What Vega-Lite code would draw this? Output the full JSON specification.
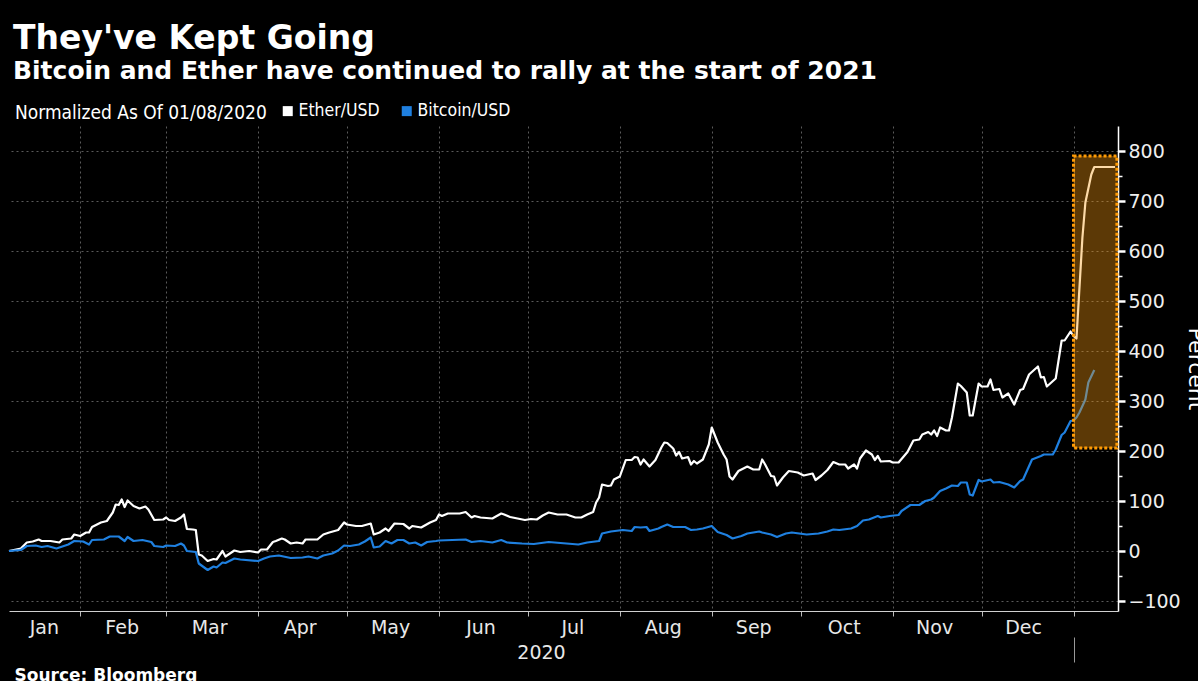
{
  "$schema": "https://vega.github.io/schema/vega-lite/v6.json",
  "width": 1109,
  "height": 485,
  "autosize": {"type": "none"},
  "padding": {"left": 9, "top": 126, "right": 80, "bottom": 70},
  "background": "#000000",
  "title": {
    "text": "They've Kept Going",
    "subtitle": "Bitcoin and Ether have continued to rally at the start of 2021",
    "anchor": "start",
    "frame": "group",
    "orient": "top",
    "dx": 4,
    "offset": 18,
    "font": "DejaVu Sans",
    "fontSize": 33,
    "fontWeight": "bold",
    "color": "#ffffff",
    "subtitleFont": "DejaVu Sans",
    "subtitleFontSize": 25,
    "subtitleFontWeight": "bold",
    "subtitleColor": "#ffffff",
    "subtitlePadding": 3
  },
  "config": {
    "view": {"stroke": null},
    "axis": {"labelFont": "DejaVu Sans", "titleFont": "DejaVu Sans", "labelColor": "#e8e8e8", "titleColor": "#ffffff"}
  },
  "datasets": {
    "box": [{"x1": "2021-01-01", "x2": "2021-01-15T15:00:00Z", "y1": 206, "y2": 790}],
    "lines": [
      {"d": "2020-01-08", "s": "Ether/USD", "v": 0},
      {"d": "2020-01-12", "s": "Ether/USD", "v": 5},
      {"d": "2020-01-14", "s": "Ether/USD", "v": 17},
      {"d": "2020-01-16", "s": "Ether/USD", "v": 19},
      {"d": "2020-01-18", "s": "Ether/USD", "v": 23},
      {"d": "2020-01-19", "s": "Ether/USD", "v": 20},
      {"d": "2020-01-22", "s": "Ether/USD", "v": 20},
      {"d": "2020-01-25", "s": "Ether/USD", "v": 17},
      {"d": "2020-01-26", "s": "Ether/USD", "v": 23},
      {"d": "2020-01-29", "s": "Ether/USD", "v": 25},
      {"d": "2020-01-30", "s": "Ether/USD", "v": 33},
      {"d": "2020-02-01", "s": "Ether/USD", "v": 30},
      {"d": "2020-02-03", "s": "Ether/USD", "v": 37},
      {"d": "2020-02-04", "s": "Ether/USD", "v": 37},
      {"d": "2020-02-05", "s": "Ether/USD", "v": 48},
      {"d": "2020-02-08", "s": "Ether/USD", "v": 57},
      {"d": "2020-02-10", "s": "Ether/USD", "v": 60},
      {"d": "2020-02-12", "s": "Ether/USD", "v": 77},
      {"d": "2020-02-13", "s": "Ether/USD", "v": 93},
      {"d": "2020-02-14", "s": "Ether/USD", "v": 92},
      {"d": "2020-02-15", "s": "Ether/USD", "v": 103},
      {"d": "2020-02-16", "s": "Ether/USD", "v": 88},
      {"d": "2020-02-17", "s": "Ether/USD", "v": 101},
      {"d": "2020-02-19", "s": "Ether/USD", "v": 90},
      {"d": "2020-02-21", "s": "Ether/USD", "v": 85},
      {"d": "2020-02-23", "s": "Ether/USD", "v": 89},
      {"d": "2020-02-24", "s": "Ether/USD", "v": 83},
      {"d": "2020-02-26", "s": "Ether/USD", "v": 62},
      {"d": "2020-02-29", "s": "Ether/USD", "v": 63},
      {"d": "2020-03-01", "s": "Ether/USD", "v": 67},
      {"d": "2020-03-02", "s": "Ether/USD", "v": 62},
      {"d": "2020-03-04", "s": "Ether/USD", "v": 60},
      {"d": "2020-03-06", "s": "Ether/USD", "v": 67},
      {"d": "2020-03-07", "s": "Ether/USD", "v": 73},
      {"d": "2020-03-08", "s": "Ether/USD", "v": 44},
      {"d": "2020-03-10", "s": "Ether/USD", "v": 43},
      {"d": "2020-03-11", "s": "Ether/USD", "v": 42},
      {"d": "2020-03-12", "s": "Ether/USD", "v": -7},
      {"d": "2020-03-13", "s": "Ether/USD", "v": -9},
      {"d": "2020-03-15", "s": "Ether/USD", "v": -20},
      {"d": "2020-03-17", "s": "Ether/USD", "v": -16},
      {"d": "2020-03-18", "s": "Ether/USD", "v": -17},
      {"d": "2020-03-20", "s": "Ether/USD", "v": 0},
      {"d": "2020-03-21", "s": "Ether/USD", "v": -11},
      {"d": "2020-03-24", "s": "Ether/USD", "v": 1},
      {"d": "2020-03-26", "s": "Ether/USD", "v": -2},
      {"d": "2020-03-29", "s": "Ether/USD", "v": 0},
      {"d": "2020-04-01", "s": "Ether/USD", "v": -3},
      {"d": "2020-04-02", "s": "Ether/USD", "v": 3},
      {"d": "2020-04-04", "s": "Ether/USD", "v": 3},
      {"d": "2020-04-06", "s": "Ether/USD", "v": 18},
      {"d": "2020-04-07", "s": "Ether/USD", "v": 20},
      {"d": "2020-04-09", "s": "Ether/USD", "v": 25},
      {"d": "2020-04-10", "s": "Ether/USD", "v": 23},
      {"d": "2020-04-12", "s": "Ether/USD", "v": 15},
      {"d": "2020-04-14", "s": "Ether/USD", "v": 17},
      {"d": "2020-04-16", "s": "Ether/USD", "v": 15},
      {"d": "2020-04-17", "s": "Ether/USD", "v": 23},
      {"d": "2020-04-21", "s": "Ether/USD", "v": 23},
      {"d": "2020-04-23", "s": "Ether/USD", "v": 33},
      {"d": "2020-04-25", "s": "Ether/USD", "v": 37},
      {"d": "2020-04-28", "s": "Ether/USD", "v": 42},
      {"d": "2020-04-30", "s": "Ether/USD", "v": 57},
      {"d": "2020-05-01", "s": "Ether/USD", "v": 53},
      {"d": "2020-05-04", "s": "Ether/USD", "v": 50},
      {"d": "2020-05-06", "s": "Ether/USD", "v": 50},
      {"d": "2020-05-09", "s": "Ether/USD", "v": 55},
      {"d": "2020-05-10", "s": "Ether/USD", "v": 33},
      {"d": "2020-05-12", "s": "Ether/USD", "v": 37},
      {"d": "2020-05-14", "s": "Ether/USD", "v": 45},
      {"d": "2020-05-15", "s": "Ether/USD", "v": 40},
      {"d": "2020-05-17", "s": "Ether/USD", "v": 55},
      {"d": "2020-05-20", "s": "Ether/USD", "v": 54},
      {"d": "2020-05-22", "s": "Ether/USD", "v": 45},
      {"d": "2020-05-23", "s": "Ether/USD", "v": 50},
      {"d": "2020-05-26", "s": "Ether/USD", "v": 47},
      {"d": "2020-05-29", "s": "Ether/USD", "v": 57},
      {"d": "2020-05-31", "s": "Ether/USD", "v": 62},
      {"d": "2020-06-01", "s": "Ether/USD", "v": 73},
      {"d": "2020-06-02", "s": "Ether/USD", "v": 70},
      {"d": "2020-06-04", "s": "Ether/USD", "v": 75},
      {"d": "2020-06-08", "s": "Ether/USD", "v": 75},
      {"d": "2020-06-10", "s": "Ether/USD", "v": 78},
      {"d": "2020-06-12", "s": "Ether/USD", "v": 67},
      {"d": "2020-06-13", "s": "Ether/USD", "v": 70},
      {"d": "2020-06-15", "s": "Ether/USD", "v": 67},
      {"d": "2020-06-19", "s": "Ether/USD", "v": 65},
      {"d": "2020-06-22", "s": "Ether/USD", "v": 75},
      {"d": "2020-06-23", "s": "Ether/USD", "v": 73},
      {"d": "2020-06-25", "s": "Ether/USD", "v": 68},
      {"d": "2020-06-30", "s": "Ether/USD", "v": 62},
      {"d": "2020-07-02", "s": "Ether/USD", "v": 64},
      {"d": "2020-07-04", "s": "Ether/USD", "v": 63},
      {"d": "2020-07-06", "s": "Ether/USD", "v": 71},
      {"d": "2020-07-08", "s": "Ether/USD", "v": 77},
      {"d": "2020-07-11", "s": "Ether/USD", "v": 73},
      {"d": "2020-07-14", "s": "Ether/USD", "v": 73},
      {"d": "2020-07-17", "s": "Ether/USD", "v": 67},
      {"d": "2020-07-19", "s": "Ether/USD", "v": 67},
      {"d": "2020-07-21", "s": "Ether/USD", "v": 73},
      {"d": "2020-07-23", "s": "Ether/USD", "v": 78},
      {"d": "2020-07-24", "s": "Ether/USD", "v": 97},
      {"d": "2020-07-25", "s": "Ether/USD", "v": 107},
      {"d": "2020-07-26", "s": "Ether/USD", "v": 133},
      {"d": "2020-07-28", "s": "Ether/USD", "v": 130},
      {"d": "2020-07-29", "s": "Ether/USD", "v": 131},
      {"d": "2020-07-30", "s": "Ether/USD", "v": 143},
      {"d": "2020-08-01", "s": "Ether/USD", "v": 149},
      {"d": "2020-08-03", "s": "Ether/USD", "v": 182},
      {"d": "2020-08-05", "s": "Ether/USD", "v": 182},
      {"d": "2020-08-06", "s": "Ether/USD", "v": 188},
      {"d": "2020-08-07", "s": "Ether/USD", "v": 187},
      {"d": "2020-08-08", "s": "Ether/USD", "v": 173},
      {"d": "2020-08-09", "s": "Ether/USD", "v": 183},
      {"d": "2020-08-11", "s": "Ether/USD", "v": 169},
      {"d": "2020-08-13", "s": "Ether/USD", "v": 182},
      {"d": "2020-08-15", "s": "Ether/USD", "v": 207},
      {"d": "2020-08-16", "s": "Ether/USD", "v": 217},
      {"d": "2020-08-17", "s": "Ether/USD", "v": 216},
      {"d": "2020-08-19", "s": "Ether/USD", "v": 205},
      {"d": "2020-08-20", "s": "Ether/USD", "v": 191},
      {"d": "2020-08-21", "s": "Ether/USD", "v": 198},
      {"d": "2020-08-22", "s": "Ether/USD", "v": 185},
      {"d": "2020-08-24", "s": "Ether/USD", "v": 188},
      {"d": "2020-08-25", "s": "Ether/USD", "v": 173},
      {"d": "2020-08-26", "s": "Ether/USD", "v": 180},
      {"d": "2020-08-27", "s": "Ether/USD", "v": 175},
      {"d": "2020-08-29", "s": "Ether/USD", "v": 183},
      {"d": "2020-08-31", "s": "Ether/USD", "v": 213},
      {"d": "2020-09-01", "s": "Ether/USD", "v": 247},
      {"d": "2020-09-03", "s": "Ether/USD", "v": 217},
      {"d": "2020-09-05", "s": "Ether/USD", "v": 193},
      {"d": "2020-09-06", "s": "Ether/USD", "v": 183},
      {"d": "2020-09-07", "s": "Ether/USD", "v": 149},
      {"d": "2020-09-08", "s": "Ether/USD", "v": 143},
      {"d": "2020-09-10", "s": "Ether/USD", "v": 160},
      {"d": "2020-09-13", "s": "Ether/USD", "v": 169},
      {"d": "2020-09-15", "s": "Ether/USD", "v": 163},
      {"d": "2020-09-17", "s": "Ether/USD", "v": 163},
      {"d": "2020-09-18", "s": "Ether/USD", "v": 183},
      {"d": "2020-09-19", "s": "Ether/USD", "v": 173},
      {"d": "2020-09-21", "s": "Ether/USD", "v": 150},
      {"d": "2020-09-22", "s": "Ether/USD", "v": 149},
      {"d": "2020-09-23", "s": "Ether/USD", "v": 131},
      {"d": "2020-09-25", "s": "Ether/USD", "v": 147},
      {"d": "2020-09-27", "s": "Ether/USD", "v": 160},
      {"d": "2020-09-30", "s": "Ether/USD", "v": 157},
      {"d": "2020-10-02", "s": "Ether/USD", "v": 151},
      {"d": "2020-10-05", "s": "Ether/USD", "v": 155},
      {"d": "2020-10-06", "s": "Ether/USD", "v": 142},
      {"d": "2020-10-08", "s": "Ether/USD", "v": 151},
      {"d": "2020-10-10", "s": "Ether/USD", "v": 162},
      {"d": "2020-10-12", "s": "Ether/USD", "v": 178},
      {"d": "2020-10-14", "s": "Ether/USD", "v": 173},
      {"d": "2020-10-16", "s": "Ether/USD", "v": 173},
      {"d": "2020-10-17", "s": "Ether/USD", "v": 165},
      {"d": "2020-10-19", "s": "Ether/USD", "v": 173},
      {"d": "2020-10-20", "s": "Ether/USD", "v": 165},
      {"d": "2020-10-21", "s": "Ether/USD", "v": 185},
      {"d": "2020-10-23", "s": "Ether/USD", "v": 201},
      {"d": "2020-10-25", "s": "Ether/USD", "v": 193},
      {"d": "2020-10-26", "s": "Ether/USD", "v": 182},
      {"d": "2020-10-27", "s": "Ether/USD", "v": 190},
      {"d": "2020-10-28", "s": "Ether/USD", "v": 179},
      {"d": "2020-10-31", "s": "Ether/USD", "v": 180},
      {"d": "2020-11-01", "s": "Ether/USD", "v": 177},
      {"d": "2020-11-03", "s": "Ether/USD", "v": 177},
      {"d": "2020-11-06", "s": "Ether/USD", "v": 198},
      {"d": "2020-11-08", "s": "Ether/USD", "v": 221},
      {"d": "2020-11-10", "s": "Ether/USD", "v": 223},
      {"d": "2020-11-11", "s": "Ether/USD", "v": 233},
      {"d": "2020-11-13", "s": "Ether/USD", "v": 238},
      {"d": "2020-11-14", "s": "Ether/USD", "v": 233},
      {"d": "2020-11-15", "s": "Ether/USD", "v": 241},
      {"d": "2020-11-16", "s": "Ether/USD", "v": 230},
      {"d": "2020-11-17", "s": "Ether/USD", "v": 247},
      {"d": "2020-11-19", "s": "Ether/USD", "v": 241},
      {"d": "2020-11-20", "s": "Ether/USD", "v": 241},
      {"d": "2020-11-21", "s": "Ether/USD", "v": 267},
      {"d": "2020-11-23", "s": "Ether/USD", "v": 335},
      {"d": "2020-11-24", "s": "Ether/USD", "v": 330},
      {"d": "2020-11-26", "s": "Ether/USD", "v": 317},
      {"d": "2020-11-27", "s": "Ether/USD", "v": 271},
      {"d": "2020-11-28", "s": "Ether/USD", "v": 271},
      {"d": "2020-11-30", "s": "Ether/USD", "v": 335},
      {"d": "2020-12-01", "s": "Ether/USD", "v": 329},
      {"d": "2020-12-03", "s": "Ether/USD", "v": 329},
      {"d": "2020-12-04", "s": "Ether/USD", "v": 343},
      {"d": "2020-12-05", "s": "Ether/USD", "v": 322},
      {"d": "2020-12-07", "s": "Ether/USD", "v": 324},
      {"d": "2020-12-08", "s": "Ether/USD", "v": 307},
      {"d": "2020-12-10", "s": "Ether/USD", "v": 315},
      {"d": "2020-12-12", "s": "Ether/USD", "v": 293},
      {"d": "2020-12-14", "s": "Ether/USD", "v": 322},
      {"d": "2020-12-15", "s": "Ether/USD", "v": 324},
      {"d": "2020-12-17", "s": "Ether/USD", "v": 353},
      {"d": "2020-12-20", "s": "Ether/USD", "v": 369},
      {"d": "2020-12-21", "s": "Ether/USD", "v": 347},
      {"d": "2020-12-22", "s": "Ether/USD", "v": 348},
      {"d": "2020-12-23", "s": "Ether/USD", "v": 329},
      {"d": "2020-12-26", "s": "Ether/USD", "v": 345},
      {"d": "2020-12-28", "s": "Ether/USD", "v": 421},
      {"d": "2020-12-29", "s": "Ether/USD", "v": 421},
      {"d": "2020-12-31", "s": "Ether/USD", "v": 439},
      {"d": "2021-01-01", "s": "Ether/USD", "v": 430},
      {"d": "2021-01-02", "s": "Ether/USD", "v": 425},
      {"d": "2021-01-04", "s": "Ether/USD", "v": 627},
      {"d": "2021-01-05", "s": "Ether/USD", "v": 697},
      {"d": "2021-01-07", "s": "Ether/USD", "v": 753},
      {"d": "2021-01-08", "s": "Ether/USD", "v": 768},
      {"d": "2021-01-15", "s": "Ether/USD", "v": 768},
      {"d": "2020-01-08", "s": "Bitcoin/USD", "v": 0},
      {"d": "2020-01-12", "s": "Bitcoin/USD", "v": 2},
      {"d": "2020-01-14", "s": "Bitcoin/USD", "v": 10},
      {"d": "2020-01-17", "s": "Bitcoin/USD", "v": 11},
      {"d": "2020-01-19", "s": "Bitcoin/USD", "v": 8},
      {"d": "2020-01-21", "s": "Bitcoin/USD", "v": 10},
      {"d": "2020-01-24", "s": "Bitcoin/USD", "v": 5},
      {"d": "2020-01-28", "s": "Bitcoin/USD", "v": 13},
      {"d": "2020-01-30", "s": "Bitcoin/USD", "v": 20},
      {"d": "2020-02-02", "s": "Bitcoin/USD", "v": 19},
      {"d": "2020-02-04", "s": "Bitcoin/USD", "v": 13},
      {"d": "2020-02-05", "s": "Bitcoin/USD", "v": 22},
      {"d": "2020-02-09", "s": "Bitcoin/USD", "v": 23},
      {"d": "2020-02-11", "s": "Bitcoin/USD", "v": 29},
      {"d": "2020-02-14", "s": "Bitcoin/USD", "v": 29},
      {"d": "2020-02-16", "s": "Bitcoin/USD", "v": 20},
      {"d": "2020-02-17", "s": "Bitcoin/USD", "v": 28},
      {"d": "2020-02-19", "s": "Bitcoin/USD", "v": 20},
      {"d": "2020-02-22", "s": "Bitcoin/USD", "v": 22},
      {"d": "2020-02-25", "s": "Bitcoin/USD", "v": 18},
      {"d": "2020-02-26", "s": "Bitcoin/USD", "v": 10},
      {"d": "2020-02-29", "s": "Bitcoin/USD", "v": 8},
      {"d": "2020-03-01", "s": "Bitcoin/USD", "v": 11},
      {"d": "2020-03-04", "s": "Bitcoin/USD", "v": 10},
      {"d": "2020-03-06", "s": "Bitcoin/USD", "v": 15},
      {"d": "2020-03-07", "s": "Bitcoin/USD", "v": 11},
      {"d": "2020-03-08", "s": "Bitcoin/USD", "v": 0},
      {"d": "2020-03-11", "s": "Bitcoin/USD", "v": -2},
      {"d": "2020-03-12", "s": "Bitcoin/USD", "v": -25},
      {"d": "2020-03-15", "s": "Bitcoin/USD", "v": -38},
      {"d": "2020-03-17", "s": "Bitcoin/USD", "v": -31},
      {"d": "2020-03-18", "s": "Bitcoin/USD", "v": -33},
      {"d": "2020-03-20", "s": "Bitcoin/USD", "v": -23},
      {"d": "2020-03-21", "s": "Bitcoin/USD", "v": -24},
      {"d": "2020-03-24", "s": "Bitcoin/USD", "v": -15},
      {"d": "2020-03-26", "s": "Bitcoin/USD", "v": -17},
      {"d": "2020-04-01", "s": "Bitcoin/USD", "v": -20},
      {"d": "2020-04-03", "s": "Bitcoin/USD", "v": -15},
      {"d": "2020-04-05", "s": "Bitcoin/USD", "v": -11},
      {"d": "2020-04-08", "s": "Bitcoin/USD", "v": -9},
      {"d": "2020-04-12", "s": "Bitcoin/USD", "v": -14},
      {"d": "2020-04-16", "s": "Bitcoin/USD", "v": -13},
      {"d": "2020-04-18", "s": "Bitcoin/USD", "v": -11},
      {"d": "2020-04-21", "s": "Bitcoin/USD", "v": -15},
      {"d": "2020-04-23", "s": "Bitcoin/USD", "v": -9},
      {"d": "2020-04-26", "s": "Bitcoin/USD", "v": -5},
      {"d": "2020-04-28", "s": "Bitcoin/USD", "v": 1},
      {"d": "2020-04-30", "s": "Bitcoin/USD", "v": 11},
      {"d": "2020-05-02", "s": "Bitcoin/USD", "v": 10},
      {"d": "2020-05-05", "s": "Bitcoin/USD", "v": 13},
      {"d": "2020-05-07", "s": "Bitcoin/USD", "v": 19},
      {"d": "2020-05-09", "s": "Bitcoin/USD", "v": 27},
      {"d": "2020-05-10", "s": "Bitcoin/USD", "v": 7},
      {"d": "2020-05-12", "s": "Bitcoin/USD", "v": 9},
      {"d": "2020-05-14", "s": "Bitcoin/USD", "v": 20},
      {"d": "2020-05-16", "s": "Bitcoin/USD", "v": 15},
      {"d": "2020-05-18", "s": "Bitcoin/USD", "v": 22},
      {"d": "2020-05-20", "s": "Bitcoin/USD", "v": 22},
      {"d": "2020-05-22", "s": "Bitcoin/USD", "v": 15},
      {"d": "2020-05-24", "s": "Bitcoin/USD", "v": 17},
      {"d": "2020-05-26", "s": "Bitcoin/USD", "v": 11},
      {"d": "2020-05-28", "s": "Bitcoin/USD", "v": 18},
      {"d": "2020-05-31", "s": "Bitcoin/USD", "v": 20},
      {"d": "2020-06-01", "s": "Bitcoin/USD", "v": 21},
      {"d": "2020-06-10", "s": "Bitcoin/USD", "v": 23},
      {"d": "2020-06-12", "s": "Bitcoin/USD", "v": 18},
      {"d": "2020-06-15", "s": "Bitcoin/USD", "v": 20},
      {"d": "2020-06-19", "s": "Bitcoin/USD", "v": 17},
      {"d": "2020-06-22", "s": "Bitcoin/USD", "v": 22},
      {"d": "2020-06-24", "s": "Bitcoin/USD", "v": 17},
      {"d": "2020-06-29", "s": "Bitcoin/USD", "v": 15},
      {"d": "2020-07-03", "s": "Bitcoin/USD", "v": 14},
      {"d": "2020-07-08", "s": "Bitcoin/USD", "v": 18},
      {"d": "2020-07-14", "s": "Bitcoin/USD", "v": 15},
      {"d": "2020-07-18", "s": "Bitcoin/USD", "v": 13},
      {"d": "2020-07-21", "s": "Bitcoin/USD", "v": 17},
      {"d": "2020-07-25", "s": "Bitcoin/USD", "v": 20},
      {"d": "2020-07-26", "s": "Bitcoin/USD", "v": 35},
      {"d": "2020-07-29", "s": "Bitcoin/USD", "v": 39},
      {"d": "2020-08-02", "s": "Bitcoin/USD", "v": 42},
      {"d": "2020-08-05", "s": "Bitcoin/USD", "v": 40},
      {"d": "2020-08-06", "s": "Bitcoin/USD", "v": 48},
      {"d": "2020-08-08", "s": "Bitcoin/USD", "v": 47},
      {"d": "2020-08-10", "s": "Bitcoin/USD", "v": 48},
      {"d": "2020-08-11", "s": "Bitcoin/USD", "v": 40},
      {"d": "2020-08-14", "s": "Bitcoin/USD", "v": 45},
      {"d": "2020-08-15", "s": "Bitcoin/USD", "v": 48},
      {"d": "2020-08-17", "s": "Bitcoin/USD", "v": 53},
      {"d": "2020-08-19", "s": "Bitcoin/USD", "v": 48},
      {"d": "2020-08-21", "s": "Bitcoin/USD", "v": 48},
      {"d": "2020-08-23", "s": "Bitcoin/USD", "v": 48},
      {"d": "2020-08-25", "s": "Bitcoin/USD", "v": 42},
      {"d": "2020-08-27", "s": "Bitcoin/USD", "v": 43},
      {"d": "2020-08-29", "s": "Bitcoin/USD", "v": 45},
      {"d": "2020-09-01", "s": "Bitcoin/USD", "v": 50},
      {"d": "2020-09-03", "s": "Bitcoin/USD", "v": 38},
      {"d": "2020-09-06", "s": "Bitcoin/USD", "v": 32},
      {"d": "2020-09-08", "s": "Bitcoin/USD", "v": 25},
      {"d": "2020-09-11", "s": "Bitcoin/USD", "v": 30},
      {"d": "2020-09-13", "s": "Bitcoin/USD", "v": 35},
      {"d": "2020-09-17", "s": "Bitcoin/USD", "v": 39},
      {"d": "2020-09-18", "s": "Bitcoin/USD", "v": 37},
      {"d": "2020-09-21", "s": "Bitcoin/USD", "v": 33},
      {"d": "2020-09-23", "s": "Bitcoin/USD", "v": 28},
      {"d": "2020-09-26", "s": "Bitcoin/USD", "v": 35},
      {"d": "2020-09-28", "s": "Bitcoin/USD", "v": 37},
      {"d": "2020-10-03", "s": "Bitcoin/USD", "v": 33},
      {"d": "2020-10-07", "s": "Bitcoin/USD", "v": 35},
      {"d": "2020-10-10", "s": "Bitcoin/USD", "v": 39},
      {"d": "2020-10-12", "s": "Bitcoin/USD", "v": 43},
      {"d": "2020-10-14", "s": "Bitcoin/USD", "v": 42},
      {"d": "2020-10-18", "s": "Bitcoin/USD", "v": 45},
      {"d": "2020-10-20", "s": "Bitcoin/USD", "v": 50},
      {"d": "2020-10-22", "s": "Bitcoin/USD", "v": 61},
      {"d": "2020-10-24", "s": "Bitcoin/USD", "v": 63},
      {"d": "2020-10-27", "s": "Bitcoin/USD", "v": 70},
      {"d": "2020-10-28", "s": "Bitcoin/USD", "v": 67},
      {"d": "2020-10-31", "s": "Bitcoin/USD", "v": 70},
      {"d": "2020-11-03", "s": "Bitcoin/USD", "v": 72},
      {"d": "2020-11-04", "s": "Bitcoin/USD", "v": 80},
      {"d": "2020-11-07", "s": "Bitcoin/USD", "v": 92},
      {"d": "2020-11-10", "s": "Bitcoin/USD", "v": 92},
      {"d": "2020-11-12", "s": "Bitcoin/USD", "v": 100},
      {"d": "2020-11-14", "s": "Bitcoin/USD", "v": 103},
      {"d": "2020-11-15", "s": "Bitcoin/USD", "v": 107},
      {"d": "2020-11-17", "s": "Bitcoin/USD", "v": 120},
      {"d": "2020-11-19", "s": "Bitcoin/USD", "v": 125},
      {"d": "2020-11-21", "s": "Bitcoin/USD", "v": 131},
      {"d": "2020-11-23", "s": "Bitcoin/USD", "v": 130},
      {"d": "2020-11-24", "s": "Bitcoin/USD", "v": 137},
      {"d": "2020-11-26", "s": "Bitcoin/USD", "v": 137},
      {"d": "2020-11-27", "s": "Bitcoin/USD", "v": 113},
      {"d": "2020-11-28", "s": "Bitcoin/USD", "v": 111},
      {"d": "2020-11-30", "s": "Bitcoin/USD", "v": 142},
      {"d": "2020-12-01", "s": "Bitcoin/USD", "v": 139},
      {"d": "2020-12-04", "s": "Bitcoin/USD", "v": 143},
      {"d": "2020-12-05", "s": "Bitcoin/USD", "v": 137},
      {"d": "2020-12-07", "s": "Bitcoin/USD", "v": 138},
      {"d": "2020-12-10", "s": "Bitcoin/USD", "v": 133},
      {"d": "2020-12-12", "s": "Bitcoin/USD", "v": 127},
      {"d": "2020-12-14", "s": "Bitcoin/USD", "v": 140},
      {"d": "2020-12-15", "s": "Bitcoin/USD", "v": 143},
      {"d": "2020-12-18", "s": "Bitcoin/USD", "v": 183},
      {"d": "2020-12-21", "s": "Bitcoin/USD", "v": 190},
      {"d": "2020-12-22", "s": "Bitcoin/USD", "v": 193},
      {"d": "2020-12-25", "s": "Bitcoin/USD", "v": 193},
      {"d": "2020-12-26", "s": "Bitcoin/USD", "v": 203},
      {"d": "2020-12-28", "s": "Bitcoin/USD", "v": 232},
      {"d": "2020-12-29", "s": "Bitcoin/USD", "v": 237},
      {"d": "2020-12-31", "s": "Bitcoin/USD", "v": 260},
      {"d": "2021-01-01", "s": "Bitcoin/USD", "v": 261},
      {"d": "2021-01-02", "s": "Bitcoin/USD", "v": 267},
      {"d": "2021-01-03", "s": "Bitcoin/USD", "v": 277},
      {"d": "2021-01-05", "s": "Bitcoin/USD", "v": 303},
      {"d": "2021-01-06", "s": "Bitcoin/USD", "v": 337},
      {"d": "2021-01-08", "s": "Bitcoin/USD", "v": 362}
    ]
  },
  "layer": [
    {
      "data": {"name": "lines"},
      "mark": {"type": "line", "strokeJoin": "round"},
      "encoding": {
        "x": {
          "field": "d", "type": "temporal",
          "scale": {"type": "utc", "domain": [{"year": 2020, "month": 1, "date": 8, "utc": true}, {"year": 2021, "month": 1, "date": 16, "utc": true}]},
          "axis": {
            "orient": "bottom",
            "values": [
              {"year": 2020, "month": 2, "date": 1, "utc": true},
              {"year": 2020, "month": 3, "date": 1, "utc": true},
              {"year": 2020, "month": 4, "date": 1, "utc": true},
              {"year": 2020, "month": 5, "date": 1, "utc": true},
              {"year": 2020, "month": 6, "date": 1, "utc": true},
              {"year": 2020, "month": 7, "date": 1, "utc": true},
              {"year": 2020, "month": 8, "date": 1, "utc": true},
              {"year": 2020, "month": 9, "date": 1, "utc": true},
              {"year": 2020, "month": 10, "date": 1, "utc": true},
              {"year": 2020, "month": 11, "date": 1, "utc": true},
              {"year": 2020, "month": 12, "date": 1, "utc": true},
              {"year": 2021, "month": 1, "date": 1, "utc": true}
            ],
            "labels": false,
            "title": null,
            "grid": true,
            "gridColor": "#5a5a5a",
            "gridDash": [2, 3],
            "gridWidth": 1,
            "domain": true,
            "domainColor": "#d0d0d0",
            "domainWidth": 1,
            "ticks": true,
            "tickColor": "#bbbbbb",
            "tickSize": 5,
            "tickWidth": 1
          }
        },
        "y": {
          "field": "v", "type": "quantitative",
          "scale": {"domain": [-120, 850], "nice": false, "zero": false},
          "axis": {
            "orient": "right",
            "values": [-100, 0, 100, 200, 300, 400, 500, 600, 700, 800],
            "grid": true,
            "gridColor": "#5a5a5a",
            "gridDash": [2, 3],
            "gridWidth": 1,
            "domainColor": "#ffffff",
            "domainWidth": 1.5,
            "tickColor": "#ffffff",
            "tickSize": 7,
            "tickWidth": 2.5,
            "labelFontSize": 19,
            "labelPadding": 3,
            "labelColor": "#eeeeee",
            "title": "Percent",
            "titleFontSize": 22,
            "titleFontWeight": "normal",
            "titlePadding": 3
          }
        },
        "color": {
          "field": "s", "type": "nominal",
          "scale": {"domain": ["Ether/USD", "Bitcoin/USD"], "range": ["#ffffff", "#1f80e0"]},
          "legend": {
            "orient": "none",
            "legendX": 6,
            "legendY": -24,
            "direction": "horizontal",
            "title": "Normalized As Of 01/08/2020",
            "titleOrient": "left",
            "titleLimit": 500,
            "titleFont": "DejaVu Sans Condensed, Liberation Sans Narrow, DejaVu Sans",
            "titleFontSize": 19,
            "titleFontWeight": "normal",
            "titleColor": "#ffffff",
            "titlePadding": 12,
            "labelFont": "DejaVu Sans Condensed, Liberation Sans Narrow, DejaVu Sans",
            "labelFontSize": 17.5,
            "labelColor": "#ffffff",
            "labelOffset": 2,
            "labelLimit": 300,
            "symbolType": "square",
            "symbolSize": 25,
            "symbolStrokeWidth": 5,
            "columnPadding": 14,
            "padding": 0
          }
        },
        "strokeWidth": {"value": 2.2}
      }
    },
    {
      "data": {"name": "box"},
      "mark": {"type": "rect", "fill": "#f99a10", "opacity": 0.37},
      "encoding": {
        "x": {
          "field": "x1", "type": "temporal",
          "axis": {
            "orient": "bottom",
            "values": [
              {"year": 2020, "month": 1, "date": 19, "hours": 18, "utc": true},
              {"year": 2020, "month": 2, "date": 15, "utc": true},
              {"year": 2020, "month": 3, "date": 15, "hours": 12, "utc": true},
              {"year": 2020, "month": 4, "date": 15, "utc": true},
              {"year": 2020, "month": 5, "date": 15, "hours": 12, "utc": true},
              {"year": 2020, "month": 6, "date": 15, "utc": true},
              {"year": 2020, "month": 7, "date": 16, "utc": true},
              {"year": 2020, "month": 8, "date": 15, "hours": 12, "utc": true},
              {"year": 2020, "month": 9, "date": 15, "utc": true},
              {"year": 2020, "month": 10, "date": 15, "hours": 12, "utc": true},
              {"year": 2020, "month": 11, "date": 15, "utc": true},
              {"year": 2020, "month": 12, "date": 15, "utc": true}
            ],
            "labelExpr": "utcFormat(datum.value, '%b')",
            "labelFontSize": 19,
            "labelPadding": 7,
            "labelColor": "#e8e8e8",
            "ticks": false,
            "domain": false,
            "grid": false,
            "title": "2020",
            "titleFontSize": 19,
            "titleFontWeight": "normal",
            "titleColor": "#e8e8e8",
            "titleX": 532,
            "titleY": 47,
            "titleAlign": "center",
            "titleBaseline": "alphabetic"
          }
        },
        "x2": {"field": "x2"},
        "y": {"field": "y1", "type": "quantitative",
          "axis": {
            "orient": "right",
            "values": [-50, 50, 150, 250, 350, 450, 550, 650, 750],
            "labels": false,
            "domain": false,
            "grid": false,
            "ticks": true,
            "tickColor": "#ffffff",
            "tickSize": 4,
            "tickWidth": 1.5,
            "title": null
          }
        },
        "y2": {"field": "y2"}
      }
    },
    {
      "data": {"name": "box"},
      "mark": {"type": "rect", "fill": null, "stroke": "#ff9b05", "strokeWidth": 3, "strokeDash": [3, 2]},
      "encoding": {
        "x": {
          "field": "x1", "type": "temporal",
          "axis": {
            "orient": "bottom",
            "values": [{"year": 2021, "month": 1, "date": 1, "utc": true}],
            "offset": 26,
            "labels": false,
            "domain": false,
            "grid": false,
            "ticks": true,
            "tickColor": "#999999",
            "tickSize": 25,
            "tickWidth": 1,
            "title": "Source: Bloomberg",
            "titleFont": "DejaVu Sans",
            "titleFontSize": 17,
            "titleFontWeight": "bold",
            "titleColor": "#ffffff",
            "titleX": 5,
            "titleY": 43,
            "titleAlign": "left",
            "titleBaseline": "alphabetic"
          }
        },
        "x2": {"field": "x2"},
        "y": {"field": "y1", "type": "quantitative", "axis": null},
        "y2": {"field": "y2"}
      }
    }
  ],
  "resolve": {"axis": {"x": "independent", "y": "independent"}}
}
